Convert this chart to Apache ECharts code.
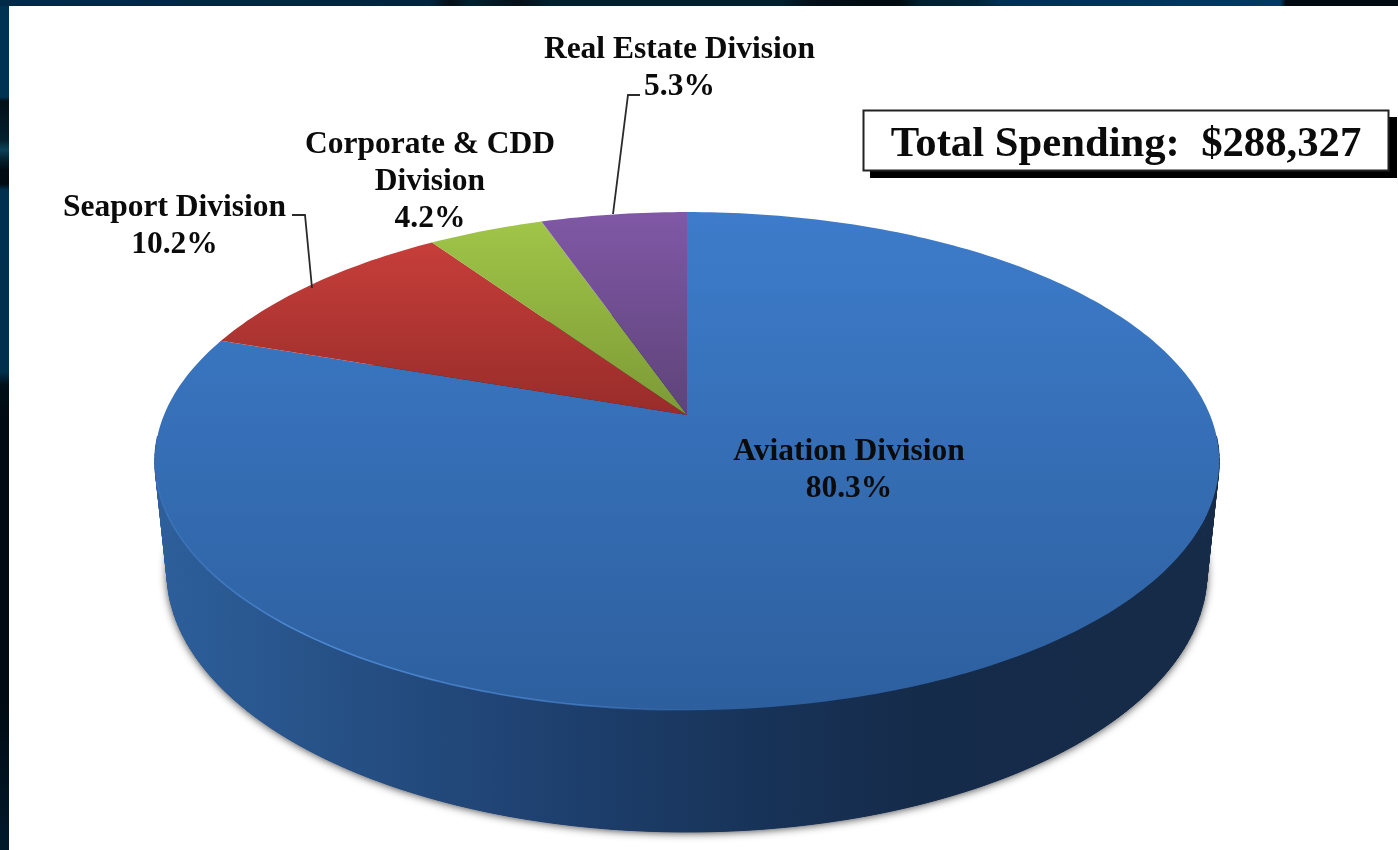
<!DOCTYPE html>
<html>
<head>
<meta charset="utf-8">
<style>html,body{margin:0;padding:0;background:#fff}#chart{width:1398px;height:850px}</style>
<script src="https://cdn.jsdelivr.net/npm/echarts@6/dist/echarts.min.js"></script>
</head>
<body>
<div id="chart"></div>
<script>
// Spending share by division, percent of total
const divisions = ['Aviation Division', 'Seaport Division', 'Corporate & CDD Division', 'Real Estate Division'];
const shares = [80.3, 10.2, 4.2, 5.3];
const totalLabel = 'Total Spending:  $288,327';

// Top-face colour ramps, top of the face to its lower end
const faceStops = [
  ['#3d7ccb', '#2d5f9e'],
  ['#c63e3a', '#982c2a'],
  ['#a0c548', '#7c9a36'],
  ['#8058a6', '#5e4379']
];
const faceSpan = [[212, 712], [243, 415], [222, 415], [212, 415]];

// Perspective projection of the disc: centre of rotation, depth factor, scales per plane
const CX = 687;
const K = 0.185;
const topPlane = { cy: 415, w: 523, h: 240.5 };
const basePlane = { cy: 524, w: 511, h: 251 };

function project(plane, r, deg) {
  const a = deg * Math.PI / 180;
  const X = r * Math.sin(a), Y = r * Math.cos(a);
  const d = 1 + K * Y;
  return [CX + plane.w * X / d, plane.cy - plane.h * Y / d];
}
function arc(plane, from, to) {
  const n = Math.max(2, Math.ceil(Math.abs(to - from)));
  const pts = [];
  for (let i = 0; i <= n; i++) pts.push(project(plane, 1, from + (to - from) * i / n));
  return pts;
}
const lg = (x, y, x2, y2, stops) => ({
  type: 'linear', x, y, x2, y2, global: true,
  colorStops: stops.map(c => ({ offset: c[0], color: c[1] }))
});
const wallFill = lg(160, 0, 1215, 0, [[0, '#2d5f9b'], [0.2, '#254e82'], [0.35, '#1f4272'], [0.55, '#18345a'], [0.72, '#152b4a'], [1, '#152b47']]);

function renderSlice(params, api) {
  const start = api.value(1) * 3.6;
  const end = api.value(2) * 3.6;
  const children = [];
  if (params.dataIndex === 0) {
    // Soft shadow that the base throws on the page
    children.push({
      type: 'polygon', shape: { points: arc(basePlane, 0, 360) },
      style: { fill: '#16294a', shadowColor: 'rgba(0,0,0,0.75)', shadowBlur: 8, shadowOffsetX: 0, shadowOffsetY: 1 }
    });
    // Rim on the near side only, one facet per degree
    const from = Math.max(start, 95), to = Math.min(end, 265);
    const top = arc(topPlane, from, to);
    const base = arc(basePlane, from, to);
    for (let j = 0; j < top.length - 1; j++) {
      children.push({
        type: 'polygon',
        shape: { points: [top[j], top[j + 1], base[j + 1], base[j]] },
        style: { fill: wallFill, stroke: wallFill, lineWidth: 1 }
      });
    }
  }
  return { type: 'group', children };
}
function renderFace(params, api) {
  const i = params.dataIndex;
  const start = api.value(1) * 3.6;
  const end = api.value(2) * 3.6;
  const pts = [[CX, topPlane.cy]].concat(arc(topPlane, start, end));
  const children = [{
    type: 'polygon', shape: { points: pts },
    style: { fill: lg(0, faceSpan[i][0], 0, faceSpan[i][1], [[0, faceStops[i][0]], [1, faceStops[i][1]]]) }
  }];
  if (i === 0) {
    // Thin highlight along the near left edge of the disc
    children.push({
      type: 'polyline',
      shape: { points: arc(topPlane, 255, 178) },
      style: {
        fill: 'none', lineWidth: 1.6,
        stroke: lg(160, 0, 720, 0, [[0, 'rgba(70,130,205,0.4)'], [0.25, 'rgba(78,140,215,0.95)'], [0.75, 'rgba(78,140,215,0.6)'], [1, 'rgba(78,140,215,0)']])
      }
    });
  }
  return { type: 'group', children };
}

// Slices run from the top of the disc, with the first one going clockwise
let acc = 0;
const rows = shares.map((v, i) => {
  const r = [divisions[i], acc, acc + v];
  acc += v;
  return r;
});

const serif = '"Liberation Serif", "Times New Roman", serif';
const labelStyle = { font: 'bold 31.5px ' + serif, fill: '#0b0b0b', align: 'center', verticalAlign: 'middle', lineHeight: 37 };
const pct = v => v.toFixed(1) + '%';
const label = (x, y, text) => ({ type: 'text', x, y, z: 20, style: Object.assign({}, labelStyle, { text }) });
const leader = pts => ({ type: 'polyline', z: 18, shape: { points: pts }, style: { fill: 'none', stroke: '#2a2a2a', lineWidth: 1.8 } });

// Dark backdrop strips around the page panel
const H = 850, W = 1398;
const backdropLeft = lg(0, 0, 0, H, [
  [0, '#003252'], [97 / H, '#003252'], [101 / H, '#021018'], [140 / H, '#04202e'], [150 / H, '#0a4258'], [160 / H, '#04202e'],
  [170 / H, '#000a12'], [184 / H, '#000a12'], [190 / H, '#003050'], [372 / H, '#00304c'], [385 / H, '#001018'],
  [420 / H, '#000a12'], [700 / H, '#000a12'], [1, '#001a2c']
]);
const backdropTop = lg(0, 0, W, 0, [
  [0, '#002a48'], [430 / W, '#00243c'], [450 / W, '#061018'], [470 / W, '#00202e'], [520 / W, '#061018'], [550 / W, '#00202e'],
  [780 / W, '#00202e'], [810 / W, '#04101a'], [865 / W, '#000c12'], [900 / W, '#000c12'], [920 / W, '#00202e'], [975 / W, '#002438'],
  [1000 / W, '#002f50'], [1280 / W, '#003a60'], [1286 / W, '#010a10'], [1, '#010a10']
]);

const chart = echarts.init(document.getElementById('chart'));
chart.setOption({
  animation: false,
  backgroundColor: '#ffffff',
  xAxis: { show: false, min: 0, max: 1 },
  yAxis: { show: false, min: 0, max: 1 },
  grid: { left: 0, right: 0, top: 0, bottom: 0 },
  series: [
    { type: 'custom', coordinateSystem: 'none', z: 2, renderItem: renderSlice, data: rows, silent: true },
    { type: 'custom', coordinateSystem: 'none', z: 3, renderItem: renderFace, data: rows, silent: true }
  ],
  graphic: [
    { type: 'rect', z: 1, shape: { x: 0, y: 0, width: 9, height: H }, style: { fill: backdropLeft } },
    { type: 'rect', z: 1, shape: { x: 0, y: 0, width: W, height: 6 }, style: { fill: backdropTop } },
    // Total box with its hard drop shadow
    { type: 'rect', z: 16, shape: { x: 870, y: 117, width: 527, height: 61 }, style: { fill: '#000' } },
    { type: 'rect', z: 17, shape: { x: 863.5, y: 110.5, width: 525, height: 60 }, style: { fill: '#fff', stroke: '#222', lineWidth: 2 } },
    { type: 'text', x: 1126, y: 145, z: 20, style: { text: totalLabel, font: 'bold 42.7px ' + serif, fill: '#0b0b0b', align: 'center', verticalAlign: 'middle' } },
    leader([[292, 215], [305, 215], [312, 288]]),
    leader([[640, 95], [628, 95], [613, 214]]),
    label(679.5, 68, divisions[3] + '\n' + pct(shares[3])),
    label(430, 181.5, 'Corporate & CDD\nDivision\n' + pct(shares[2])),
    label(174.5, 226, divisions[1] + '\n' + pct(shares[1])),
    label(849, 470, divisions[0] + '\n' + pct(shares[0]))
  ]
});
</script>
</body>
</html>
